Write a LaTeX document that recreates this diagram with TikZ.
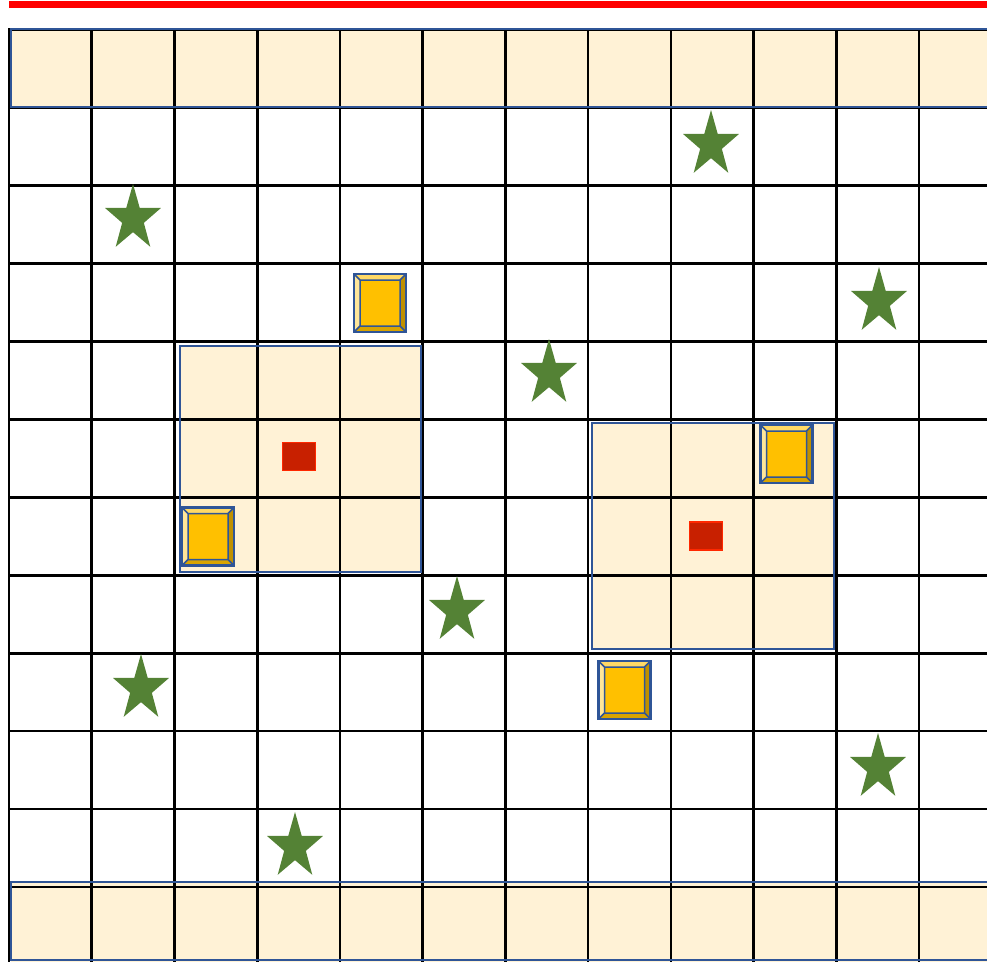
\documentclass[tikz,border=0pt]{standalone}
\usepackage{tikz}
\usetikzlibrary{calc}
\definecolor{cellcream}{RGB}{255,242,214}
\definecolor{edgeblue}{RGB}{47,85,151}
\definecolor{stargreen}{RGB}{84,130,53}
\definecolor{goldface}{RGB}{255,192,0}
\definecolor{goldlight}{RGB}{255,217,102}
\definecolor{goldpale}{RGB}{255,230,153}
\definecolor{golddark}{RGB}{191,144,0}
\definecolor{goldmid}{RGB}{217,164,0}
\definecolor{markred}{RGB}{200,32,0}
\definecolor{markedge}{RGB}{255,40,0}

\tikzset{
  gridline/.style={line width=2.7pt,black},
  zonefill/.style={fill=cellcream},
  zoneedge/.style={draw=edgeblue,line width=2.6pt},
  redmark/.style={draw=markedge,fill=markred,line width=1.8pt,
                  minimum width=33pt,minimum height=28pt,inner sep=0pt},
  starmark/.pic={
    \fill[stargreen,yscale=1.18] (270:29.4)
      \foreach \k in {0,...,4}{ -- ({306+72*\k}:11.4) -- ({342+72*\k}:29.4)} -- cycle;
  },
  goldbox/.pic={
    \fill[goldface] (-26,-29) rectangle (26,29);
    \fill[goldlight] (-26,-29) -- (26,-29) -- (20,-23) -- (-20,-23) -- cycle;
    \fill[golddark] (26,-29) -- (26,29) -- (20,23) -- (20,-23) -- cycle;
    \fill[goldmid] (-26,29) -- (26,29) -- (20,23) -- (-20,23) -- cycle;
    \fill[goldpale] (-26,-29) -- (-26,29) -- (-20,23) -- (-20,-23) -- cycle;
    \draw[edgeblue,line width=1.5pt] (-20,-23) rectangle (20,23)
      (-26,-29) -- (-20,-23) (26,-29) -- (20,-23)
      (26,29) -- (20,23) (-26,29) -- (-20,23);
    \draw[edgeblue,line width=2.6pt] (-26,-29) rectangle (26,29);
  }
}

\begin{document}
\begin{tikzpicture}[x=1pt,y=-1pt]
  \useasboundingbox (0,0) rectangle (987,961);
  % red bar on top
  \draw[red,line width=7pt] (9,4.5) -- (987,4.5);
  % shaded rows and zones
  \fill[zonefill] (11,30) rectangle (992,107);
  \fill[zonefill] (11,882) rectangle (992,962);
  \fill[zonefill] (180,346) rectangle (421,572);
  \fill[zonefill] (592,423) rectangle (834,649);
  % grid
  \foreach \i in {0,...,11}
    \draw[gridline] ({9+82.73*\i},28) -- ({9+82.73*\i},963);
  \foreach \j in {0,...,11}
    \draw[gridline] (8,{30+77.9*\j}) -- (990,{30+77.9*\j});
  % zone borders
  \draw[zoneedge] (992,29) -- (11,29) -- (11,107) -- (992,107);
  \draw[zoneedge] (992,882) -- (11,882) -- (11,960) -- (992,960);
  \draw[zoneedge] (180,346) rectangle (421,572);
  \draw[zoneedge] (592,423) rectangle (834,649);
  % targets
  \node[redmark] (hubleft) at (299,456.5) {};
  \node[redmark] (hubright) at (706,536) {};
  % boxes
  \pic at (380,303) {goldbox};
  \pic at (208,536.5) {goldbox};
  \pic at (786.5,454) {goldbox};
  \pic at (624.5,690) {goldbox};
  % stars
  \foreach \sx/\sy in {711/144.7,133/218.7,879/301.7,549/373.7,
                       457/610.7,141/688.7,878/767.7,295/846.7}
    \pic at (\sx,\sy) {starmark};
\end{tikzpicture}
\end{document}
